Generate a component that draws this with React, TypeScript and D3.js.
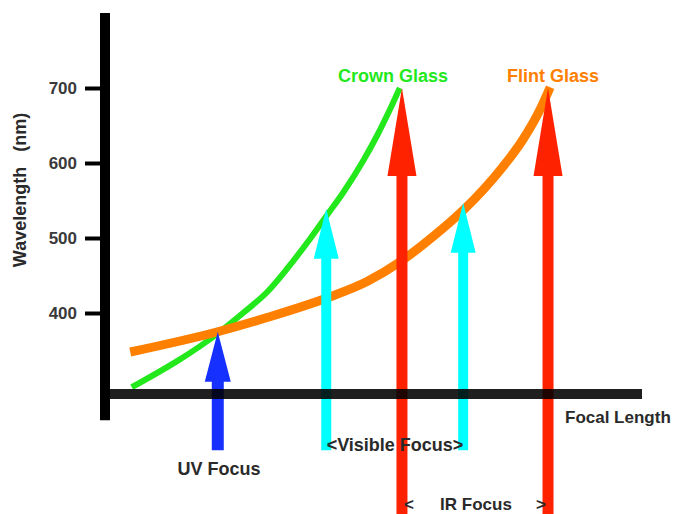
import { useRef, useEffect } from "react";
import * as d3 from "d3";

// focal length in arbitrary units (0..100 along the axis), wavelength in nm
const crownFocal = [5, 21.4, 25.7, 30.2, 33.9, 38.2, 41.3, 44.3, 48, 50.7, 53.1, 54.9];
const crownWave = [301, 375, 400, 428, 459, 499, 530, 560, 602, 637, 672, 700];
const flintFocal = [4.7, 21, 30.2, 41.3, 48.8, 54.9, 61.1, 66.7, 70.4, 74.1, 77.8, 81, 82.9];
const flintWave = [348, 375, 394, 420, 442, 468, 502, 537, 564, 595, 631, 671, 701];

// focus arrows: kind, position, tip wavelength, tail wavelength
const focusKind = ["UV", "Visible", "Visible", "IR", "IR"];
const focusFocal = [21, 41.2, 66.7, 55.3, 82.5];
const focusTip = [375, 539, 547, 700, 700];
const focusTail = [217, 217, 217, 100, 100];

const yTicks = [400, 500, 600, 700];

const App = () => {
  const svgRef = useRef<SVGSVGElement | null>(null);

  useEffect(() => {
    if (svgRef.current === null) return;
    const width = 675;
    const height = 514;
    const svg = d3.select(svgRef.current);
    svg.selectAll("*").remove();
    svg.attr("width", width).attr("height", height);

    const x = d3.scaleLinear().domain([0, 100]).range([105, 642]);
    const y = d3.scaleLinear().domain([400, 700]).range([313, 88]);
    const font = "'Liberation Sans', Arial, sans-serif";

    // curves
    const line = d3
      .line<[number, number]>()
      .x((d) => x(d[0]))
      .y((d) => y(d[1]))
      .curve(d3.curveMonotoneX);

    svg
      .append("path")
      .attr("d", line(crownFocal.map((f, i) => [f, crownWave[i]]) as [number, number][]))
      .attr("fill", "none")
      .attr("stroke", "#22e81c")
      .attr("stroke-width", 6);

    svg
      .append("path")
      .attr("d", line(flintFocal.map((f, i) => [f, flintWave[i]]) as [number, number][]))
      .attr("fill", "none")
      .attr("stroke", "#ff8000")
      .attr("stroke-width", 9);

    // arrows
    const style: Record<string, { color: string; shaft: number; headW: number; headH: number }> = {
      UV: { color: "#1630ff", shaft: 12, headW: 26, headH: 50 },
      Visible: { color: "#00ffff", shaft: 10, headW: 25, headH: 50 },
      IR: { color: "#ff2200", shaft: 11, headW: 29, headH: 88 },
    };
    focusKind.forEach((k, i) => {
      const s = style[k];
      const cx = x(focusFocal[i]);
      const tip = y(focusTip[i]);
      const tail = y(focusTail[i]);
      const base = tip + s.headH;
      const pts = [
        [cx, tip],
        [cx + s.headW / 2, base],
        [cx + s.shaft / 2, base],
        [cx + s.shaft / 2, tail],
        [cx - s.shaft / 2, tail],
        [cx - s.shaft / 2, base],
        [cx - s.headW / 2, base],
      ];
      svg
        .append("path")
        .attr("d", "M" + pts.map((p) => p.join(",")).join("L") + "Z")
        .attr("fill", s.color);
    });

    // axes
    const xAxisY = y(292);
    svg
      .append("line")
      .attr("x1", 100)
      .attr("x2", x(100))
      .attr("y1", xAxisY)
      .attr("y2", xAxisY)
      .attr("stroke", "#000")
      .attr("stroke-opacity", 0.88)
      .attr("stroke-width", 10);

    svg
      .append("line")
      .attr("x1", x(0))
      .attr("x2", x(0))
      .attr("y1", y(800))
      .attr("y2", y(257))
      .attr("stroke", "#000")
      .attr("stroke-width", 10);

    const yAxis = svg
      .append("g")
      .attr("transform", `translate(${x(0)},0)`)
      .call(d3.axisLeft(y).tickValues(yTicks).tickSize(20).tickPadding(8).tickFormat(d3.format("d")));
    yAxis.select(".domain").remove();
    yAxis.selectAll(".tick line").attr("stroke", "#000").attr("stroke-width", 4);
    yAxis
      .selectAll(".tick text")
      .attr("fill", "#3a3a3a")
      .attr("font-family", font)
      .attr("font-size", 17)
      .attr("font-weight", "bold");

    // texts
    const addText = (
      t: string,
      tx: number,
      ty: number,
      color: string,
      anchor = "middle",
      size = 18
    ) =>
      svg
        .append("text")
        .attr("x", tx)
        .attr("y", ty)
        .attr("text-anchor", anchor)
        .attr("fill", color)
        .attr("font-family", font)
        .attr("font-size", size)
        .attr("font-weight", "bold")
        .style("white-space", "pre")
        .text(t);

    addText("Crown Glass", 393, 82, "#22e81c");
    addText("Flint Glass", 553, 82, "#ff8000");
    addText("Focal Length", 565, 423, "#2a2a2a", "start", 17);
    addText("UV Focus", 219, 475, "#2a2a2a");
    addText("<Visible Focus>", 395, 451, "#2a2a2a");
    addText("<", 409, 510, "#2a2a2a", "middle", 17);
    addText("IR Focus", 476, 510, "#2a2a2a", "middle", 17);
    addText(">", 541, 510, "#2a2a2a", "middle", 17);

    addText("Wavelength   (nm)", 0, 0, "#2a2a2a").attr(
      "transform",
      "translate(26,190) rotate(-90)"
    );
  }, []);

  return (
    <svg
      ref={svgRef}
      style={{ position: "absolute", left: 0, top: 0, background: "#fff" }}
    />
  );
};

export default App;
